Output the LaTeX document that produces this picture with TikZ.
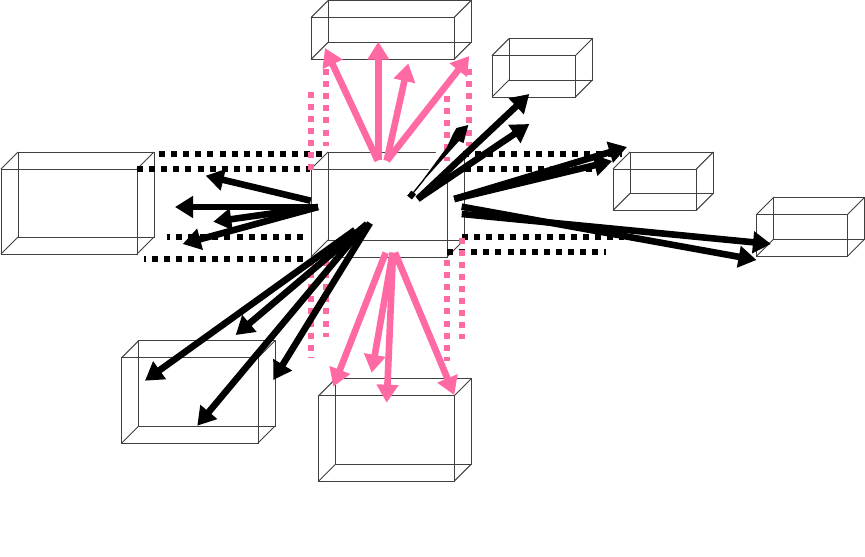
\documentclass[tikz,border=0pt]{standalone}
\usetikzlibrary{arrows.meta}
\definecolor{hotpk}{HTML}{FF69A4}
\tikzset{
  box/.style={draw=black!75,line width=1pt},
  blackdots/.style={draw=black,line width=6pt,dash pattern=on 6pt off 6.1pt},
  pinkdots/.style={draw=hotpk,line width=6pt,dash pattern=on 6pt off 6.1pt},
  blackarrow/.style={draw=black,line width=6.6pt,-{Triangle[length=18pt,width=21pt]}},
  pinkarrow/.style={draw=hotpk,line width=6.6pt,-{Triangle[length=18pt,width=21pt]}}
}
\newcommand{\cuboid}[6]{% x0,y0,x1,y1 of front face, dx, dy
  \draw[box] (#1,#2) rectangle (#3,#4);
  \draw[box] (#1+#5,#2-#6) rectangle (#3+#5,#4-#6);
  \draw[box] (#1,#2) -- (#1+#5,#2-#6) (#3,#2) -- (#3+#5,#2-#6)
             (#1,#4) -- (#1+#5,#4-#6) (#3,#4) -- (#3+#5,#4-#6);
}
\begin{document}
\begin{tikzpicture}[x=1pt,y=-1pt]
\useasboundingbox (0,0) rectangle (865,557);
\fill[white] (0,0) rectangle (865,557);
% boxes
\cuboid{1}{169}{137}{254}{17}{17}
\cuboid{311}{169}{447}{257}{17}{17}
\cuboid{311}{17.7}{454}{59.3}{17}{17}
\cuboid{492}{55.7}{575.3}{97}{17}{17}
\cuboid{613}{169}{696.3}{210.3}{17}{17}
\cuboid{756.7}{214.3}{847.7}{256}{17}{17}
\cuboid{121.7}{357.7}{258}{443}{17}{17}
\cuboid{318.7}{395.7}{454.3}{481}{17}{17}
% gap in the central box lines
\fill[white] (428,171) -- (437,150) -- (465,150) -- (449,171) -- cycle;
\draw[box] (447,169) -- (464,152);
% black dots
\draw[blackdots] (159,154) -- (322,154);
\draw[blackdots] (137,169) -- (310,169);
\draw[blackdots] (303,237) -- (167,237);
\draw[blackdots] (303,259.3) -- (144,259.3);
\draw[blackdots] (463,154) -- (622,154);
\draw[blackdots] (465,169) -- (600,169);
\draw[blackdots] (462,237) -- (624,237);
\draw[blackdots] (447,252.3) -- (606,252.3);
% pink dots
\draw[pinkdots] (310.7,91.5) -- (310.7,170);
\draw[pinkdots] (325.7,69) -- (325.7,146);
\draw[pinkdots] (446.7,96) -- (446.7,161);
\draw[pinkdots] (469.3,69) -- (469.3,146);
\draw[pinkdots] (310.7,260) -- (310.7,357);
\draw[pinkdots] (325.7,260) -- (325.7,337);
\draw[pinkdots] (447,260) -- (447,361);
\draw[pinkdots] (461.7,237.5) -- (461.7,339);
% pink arrows
\draw[pinkarrow] (377.7,160.7) -- (325,48);
\draw[pinkarrow] (378.3,160) -- (378.3,41.7);
\draw[pinkarrow] (386.7,160.7) -- (408.3,63.3);
\draw[pinkarrow] (387,160.7) -- (469.3,56);
\draw[pinkarrow] (385.7,252.7) -- (333.3,386.7);
\draw[pinkarrow] (392.7,252.7) -- (371.7,372.7);
\draw[pinkarrow] (393,252.7) -- (386.7,402.7);
\draw[pinkarrow] (395,252.7) -- (454.3,395);
% black arrows
\draw[blackarrow] (310.7,200.7) -- (205.7,175.7);
\draw[blackarrow] (318.3,207) -- (175,207);
\draw[blackarrow] (318,207) -- (213.3,221.7);
\draw[blackarrow] (318,207) -- (182.7,244);
\draw[blackarrow] (355,230) -- (145,380.7);
\draw[blackarrow] (367,224) -- (235.7,335);
\draw[blackarrow] (361,230) -- (197.3,425.7);
\draw[blackarrow] (370,223) -- (273.3,380);
% the tapered arrow
\fill[black] (468.3,125) -- (463.5,143) -- (459,141) -- (424,180) -- (423,179.5) -- (447,147) -- (453,134) -- (456.5,128) -- cycle;
\draw[black,line width=6pt] (409.6,197.6) -- (413.6,192.5);
\draw[black,line width=1.4pt] (413,193) -- (424,179.5);
\draw[blackarrow] (417.7,199) -- (529.3,94);
\draw[blackarrow] (417.7,199) -- (529.3,124);
\draw[blackarrow] (454.3,199) -- (627,147);
\draw[blackarrow] (454.3,199) -- (612.3,161);
\draw[blackarrow] (461.7,206.7) -- (756.5,260);
\draw[blackarrow] (461.7,214) -- (771,244);
\end{tikzpicture}
\end{document}
